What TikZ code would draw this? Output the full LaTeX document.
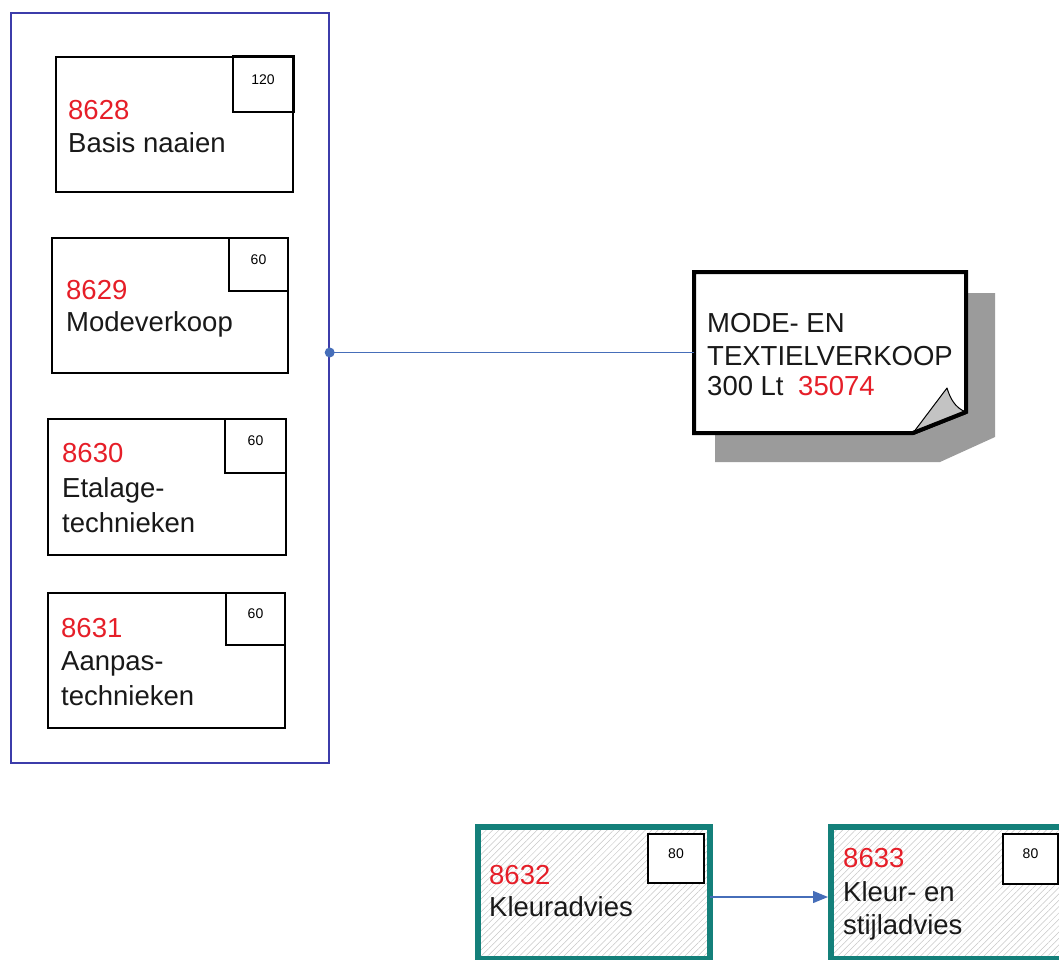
\documentclass[tikz,border=0pt]{standalone}
\usepackage{fontspec}
\setmainfont{Liberation Sans}
\usetikzlibrary{arrows.meta,patterns.meta,fit}
\definecolor{framecol}{RGB}{60,60,170}
\definecolor{conncol}{RGB}{70,110,185}
\definecolor{tealcol}{RGB}{20,128,122}
\definecolor{numred}{RGB}{230,30,40}
\definecolor{shadowgray}{RGB}{155,155,155}
\definecolor{foldgray}{RGB}{195,195,195}
\tikzset{
  box/.style={draw=black, line width=1.2pt, fill=white, inner sep=0pt},
  durbox/.style={draw=black, line width=1.2pt, fill=white, inner sep=0pt, font=\fontsize{14}{16}\selectfont},
  lbl/.style={anchor=base west, inner sep=0pt, font=\fontsize{27.5}{33}\selectfont, text=black!90},
  num/.style={lbl, text=numred},
  conn/.style={draw=conncol, line width=1.3pt},
  tealbox/.style={draw=tealcol, line width=6pt, inner sep=0pt, preaction={fill=white},
    pattern={Lines[angle=45,distance=4.5pt,line width=0.5pt]}, pattern color=black!22},
}
\begin{document}
\begin{tikzpicture}[x=1pt,y=-1pt]
\useasboundingbox (0,0) rectangle (1059,960);
\clip (0,0) rectangle (1059,960);

% group frame
\node[draw=framecol, line width=1.4pt, inner sep=0pt, fit={(11,13)(329,763)}] (frame) {};

% task boxes in the frame
\node[box, fit={(56,57)(293,192)}] (b8628) {};
\node[durbox, fit={(233,57)(293,112)}] (d8628) {120};
\draw[line width=2.6pt] (d8628.north west) -- (d8628.north east) -- (d8628.south east);
\node[num] (n8628) at (68,120) {8628};
\node[lbl] (t8628) at (68,153) {Basis naaien};

\node[box, fit={(52,238)(288,373)}] (b8629) {};
\node[durbox, fit={(229,238)(288,291)}] (d8629) {60};
\node[num] (n8629) at (66,299) {8629};
\node[lbl] (t8629) at (66,331) {Modeverkoop};

\node[box, fit={(48,419)(286,555)}] (b8630) {};
\node[durbox, fit={(225,419)(286,473)}] (d8630) {60};
\node[num] (n8630) at (62,462) {8630};
\node[lbl] (t8630a) at (62,497) {Etalage-};
\node[lbl] (t8630b) at (62,532) {technieken};

\node[box, fit={(48,593)(285,728)}] (b8631) {};
\node[durbox, fit={(226,593)(285,645)}] (d8631) {60};
\node[num] (n8631) at (61,637) {8631};
\node[lbl] (t8631a) at (61,670) {Aanpas-};
\node[lbl] (t8631b) at (61,705) {technieken};

% document shape
\fill[shadowgray] (715,293) -- (995,293) -- (995,437) -- (940,462) -- (715,462) -- cycle;
\node[inner sep=0pt, fit={(694,272)(966,433)}] (doc) {};
\draw[line width=4pt, fill=white, line join=miter] (694,272) -- (966,272) -- (966,412) -- (913,433) -- (694,433) -- cycle;
\draw[line width=1pt, fill=foldgray, line join=round] (913,433) -- (947,388) .. controls (950,398) and (955,408) .. (966,412) -- cycle;
\draw[line width=4pt, line cap=round] (966,412) -- (913,433);
\node[lbl] (m1) at (707,332) {MODE- EN};
\node[lbl] (m2) at (707,365) {TEXTIELVERKOOP};
\node[lbl] (m3) at (707,395) {300 Lt};
\node[num] (m4) at (798,395) {35074};

% connector frame -> document
\draw[conn] (frame.east |- doc.west) -- (doc.west);
\fill[conncol] (frame.east |- doc.west) circle (5pt);

% bottom boxes
\coordinate (ay) at (0,897);
\node[tealbox, fit={(478,827)(710,959)}] (b8632) {};
\node[durbox, fit={(648,834)(704,883)}] (d8632) {80};
\node[num] (n8632) at (489,884) {8632};
\node[lbl] (t8632) at (489,916) {Kleuradvies};

\node[tealbox, fit={(831,827)(1063,959)}] (b8633) {};
\node[durbox, fit={(1003,834)(1058,884)}] (d8633) {80};
\node[num] (n8633) at (843,867) {8633};
\node[lbl] (t8633a) at (843,901) {Kleur- en};
\node[lbl] (t8633b) at (843,934) {stijladvies};

\draw[conn, -{Triangle[length=15pt,width=12pt]}] (b8632.east |- ay) -- (b8633.west |- ay);
\end{tikzpicture}
\end{document}
